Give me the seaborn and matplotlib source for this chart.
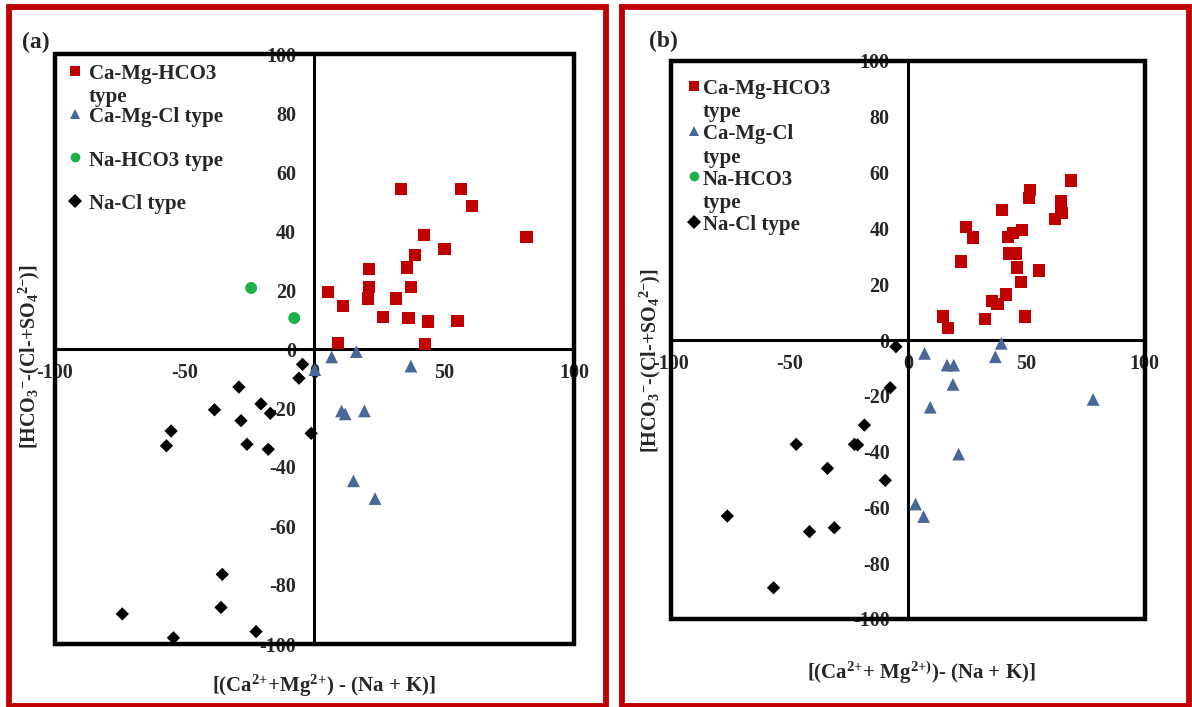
import numpy as np
import pandas as pd
import seaborn as sns
import matplotlib
matplotlib.use("Agg")
import matplotlib.pyplot as plt
from matplotlib.lines import Line2D
from matplotlib.patches import Rectangle
from matplotlib.legend_handler import HandlerLine2D

# ---------------- data : panel (a) ----------------
a_hco3_x = [33.5, 56.5, 60.7, 42.2, 81.7, 50.1, 38.7, 21.2, 35.8, 5.3, 21.2, 37.3, 20.7, 31.4, 11.2, 26.5, 36.3, 43.7, 55.1, 9.2, 42.7]
a_hco3_y = [54.3, 54.3, 48.4, 38.7, 38.0, 34.0, 31.8, 27.1, 27.6, 19.3, 21.0, 21.0, 17.1, 17.1, 14.5, 10.9, 10.5, 9.3, 9.6, 2.0, 1.8]
a_cl_x = [0.2, 6.7, 16.2, 37.2, 10.5, 11.9, 19.3, 15.1, 23.4]
a_cl_y = [-7.0, -2.7, -0.9, -5.8, -21.0, -22.0, -21.0, -44.7, -50.7]
a_nahco3_x = [-7.7, -24.3]
a_nahco3_y = [10.5, 20.7]
a_nacl_x = [-4.5, -5.9, -29.0, -38.4, -20.5, -16.9, -28.2, -55.1, -56.9, -25.9, -17.7, -1.2, -35.4, -35.9, -73.9, -54.2, -22.4]
a_nacl_y = [-5.2, -9.9, -12.9, -20.6, -18.6, -21.8, -24.3, -27.8, -32.8, -32.3, -34.0, -28.6, -76.4, -87.6, -89.8, -97.9, -95.8]

# ---------------- data : panel (b) ----------------
b_hco3_x = [68.8, 51.5, 51.2, 64.6, 64.9, 62.1, 39.8, 24.6, 27.6, 48.4, 42.2, 44.5, 22.5, 42.9, 45.6, 46.1, 55.5, 47.7, 41.4, 35.6, 37.9, 32.7, 49.5, 15.0, 17.0]
b_hco3_y = [57.2, 53.7, 50.8, 49.6, 45.6, 43.5, 46.7, 40.6, 36.7, 39.5, 37.0, 38.3, 28.1, 31.0, 31.0, 26.0, 24.9, 20.9, 16.3, 13.9, 12.8, 7.5, 8.4, 8.4, 4.4]
b_cl_x = [39.5, 7.1, 37.0, 16.6, 19.4, 19.1, 9.5, 78.3, 21.5, 3.3, 6.7]
b_cl_y = [-1.2, -4.8, -6.0, -9.0, -9.0, -15.9, -24.1, -21.3, -40.9, -58.8, -63.3]
b_nahco3_x = []
b_nahco3_y = []
b_nacl_x = [-5.0, -7.4, -18.3, -47.1, -22.5, -21.2, -33.9, -9.5, -76.2, -41.5, -31.0, -56.7]
b_nacl_y = [-2.4, -17.1, -30.5, -37.4, -37.4, -37.6, -46.0, -50.3, -63.1, -68.7, -67.3, -88.8]

x_ticks = [-100, -50, 0, 50, 100]
y_ticks = [-100, -80, -60, -40, -20, 0, 20, 40, 60, 80, 100]

a_labels = ["Ca-Mg-HCO3\ntype", "Ca-Mg-Cl type\n", "Na-HCO3 type\n", "Na-Cl type\n"]
b_labels = ["Ca-Mg-HCO3\ntype", "Ca-Mg-Cl\ntype", "Na-HCO3\ntype", "Na-Cl type\n"]

a_xlabel = r"[(Ca$^{2{+}}$+Mg$^{2{+}}$) - (Na + K)]"
b_xlabel = r"[(Ca$^{2{+}}$+ Mg$^{2{+})}$)- (Na + K)]"
ylabel = r"[HCO$_3$$^{-}$-(Cl-+SO$_4$$^{2{-}}$)]"

# ---------------- styles ----------------
RED = "#C00000"
BLUE = "#4A6897"
GREEN = "#1DB04C"
BLACK = "#000000"
series_style = [
    ("s", RED, 78),
    ("^", BLUE, 84),
    ("o", GREEN, 74),
    ("D", BLACK, 46),
]

sns.set_style("white")
plt.rcParams["font.family"] = ["Liberation Serif", "DejaVu Serif"]
plt.rcParams["font.weight"] = "bold"
plt.rcParams["mathtext.fontset"] = "custom"
plt.rcParams["mathtext.rm"] = "Liberation Serif:bold"
plt.rcParams["mathtext.it"] = "Liberation Serif:bold"
plt.rcParams["mathtext.bf"] = "Liberation Serif:bold"
plt.rcParams["mathtext.default"] = "rm"


class ShiftedHandler(HandlerLine2D):
    def __init__(self, dy, **kw):
        super().__init__(**kw)
        self.dy = dy

    def create_artists(self, legend, orig_handle, xdescent, ydescent, width,
                       height, fontsize, trans):
        arts = super().create_artists(legend, orig_handle, xdescent, ydescent,
                                      width, height, fontsize, trans)
        for a in arts:
            a.set_ydata(np.asarray(a.get_ydata(), float) + self.dy * fontsize)
        return arts


fig = plt.figure(figsize=(11.92, 7.07), dpi=100)
fig.patch.set_facecolor("white")

# red panel frames
fig.add_artist(Rectangle((9 / 1192, 1 - 706 / 707), 597 / 1192, 699 / 707,
                         transform=fig.transFigure, fill=False, ec=RED, lw=4.2))
fig.add_artist(Rectangle((622 / 1192, 1 - 706 / 707), 567 / 1192, 699 / 707,
                         transform=fig.transFigure, fill=False, ec=RED, lw=4.2))


def draw_panel(ax, series, labels, xlabel, tag, tag_xy, leg_anchor, textpad,
               labspace, ylab_xy, xlab_xy):
    for (xs, ys), (m, c, s) in zip(series, series_style):
        if len(xs) == 0:
            continue
        sns.scatterplot(x=xs, y=ys, marker=m, color=c, s=s, linewidth=0,
                        edgecolor="none", ax=ax, legend=False, zorder=4,
                        clip_on=False)
    ax.set_xlim(-100, 100)
    ax.set_ylim(-100, 100)
    ax.spines["left"].set_position("zero")
    ax.spines["bottom"].set_position("zero")
    ax.spines["right"].set_visible(False)
    ax.spines["top"].set_visible(False)
    for sp in ("left", "bottom"):
        ax.spines[sp].set_linewidth(2.2)
        ax.spines[sp].set_color("black")
        ax.spines[sp].set_zorder(2)
    ax.add_patch(Rectangle((0, 0), 1, 1, transform=ax.transAxes, fill=False,
                           ec="black", lw=3.2, zorder=2, clip_on=False))
    ax.set_xticks(x_ticks)
    ax.set_yticks(y_ticks)
    ax.set_xticklabels([str(v) for v in x_ticks])
    ax.set_yticklabels([str(v) for v in y_ticks])
    ax.tick_params(axis="x", length=0, pad=10, labelsize=14.5)
    ax.tick_params(axis="y", length=0, pad=13, labelsize=14.5)
    for t in ax.get_xticklabels() + ax.get_yticklabels():
        t.set_fontweight("bold")
    ax.set_xlabel(xlabel, fontsize=15, fontweight="bold")
    ax.set_ylabel(ylabel, fontsize=14.5, fontweight="bold")
    ax.xaxis.set_label_coords(*xlab_xy)
    ax.yaxis.set_label_coords(*ylab_xy)
    ax.grid(False)

    handles = [Line2D([], [], ls="none", marker=m, color=c, markersize=7,
                      markeredgewidth=0) for (m, c, s) in series_style]
    hmap = {h: ShiftedHandler(0.73) for h in handles}
    leg = ax.legend(handles, labels, loc="upper left", bbox_to_anchor=leg_anchor,
                    frameon=False, prop={"family": "Liberation Serif",
                                         "weight": "bold", "size": 15},
                    handlelength=0.8, handletextpad=textpad, borderpad=0,
                    borderaxespad=0, labelspacing=labspace, handler_map=hmap)
    for t in leg.get_texts():
        t.set_linespacing(1.22)
    fig.text(tag_xy[0] / 1192, 1 - tag_xy[1] / 707, tag, fontsize=17,
             fontweight="bold", ha="left", va="center")


ax_a = fig.add_axes([54.5 / 1192, 1 - 644 / 707, 519.5 / 1192, 590 / 707])
draw_panel(ax_a,
           [(a_hco3_x, a_hco3_y), (a_cl_x, a_cl_y), (a_nahco3_x, a_nahco3_y),
            (a_nacl_x, a_nacl_y)],
           a_labels, a_xlabel, "(a)", (22, 42), (0.0235, 0.983), 0.25, 0.0,
           (-0.024, 0.488), (0.519, -0.049))

ax_b = fig.add_axes([671 / 1192, 1 - 619 / 707, 473.5 / 1192, 558 / 707])
draw_panel(ax_b,
           [(b_hco3_x, b_hco3_y), (b_cl_x, b_cl_y), (b_nahco3_x, b_nahco3_y),
            (b_nacl_x, b_nacl_y)],
           b_labels, b_xlabel, "(b)", (649, 41), (0.030, 0.968), 0.05, 0.10,
           (-0.017, 0.464), (0.528, -0.072))

fig.savefig("out.png", dpi=100, facecolor="white")
